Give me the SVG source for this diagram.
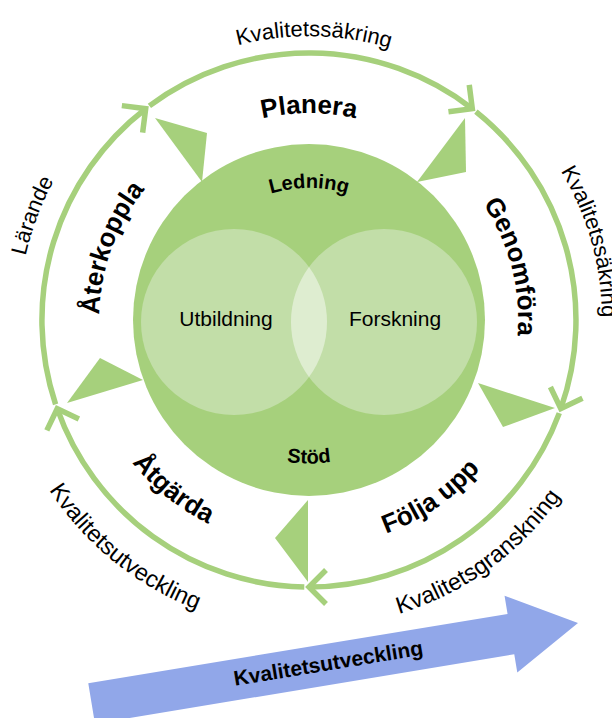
<svg xmlns="http://www.w3.org/2000/svg" xmlns:xlink="http://www.w3.org/1999/xlink" width="612" height="718" viewBox="0 0 612 718">
<style>
.ring{fill:none;stroke:#A6D07C;stroke-width:5.5;marker-end:url(#chev)}
.tri{fill:#A6D07C}
.t{font-family:"Liberation Sans",Arial,Helvetica,sans-serif;fill:#000}
.reg{font-size:22px}
.regL{font-size:23.5px}
.b{font-weight:bold;font-size:26px}
.bs{font-weight:bold;font-size:20px}
</style>
<defs>
<marker id="chev" markerUnits="userSpaceOnUse" viewBox="-25 -25 50 50" markerWidth="50" markerHeight="50" refX="0" refY="0" orient="auto" overflow="visible">
<path d="M-17,-17 L0,0 L-17,17" fill="none" stroke="#A6D07C" stroke-width="5.5"/>
</marker>
<path id="pTop" d="M26.6,290.3 A284,284 0 0 1 592.3,300.2"/>
<path id="pRight" d="M256.1,40 A285,285 0 0 1 409.7,587.9"/>
<path id="pLeft" d="M182.8,582.2 A291,291 0 0 1 387.7,39.9"/>
<path id="pBL" d="M51.2,146.1 A311,311 0 0 0 532.7,536"/>
<path id="pBR" d="M77.3,521.4 A307,307 0 0 0 572.2,161.8"/>
<path id="pPlan" d="M102.8,302 A207,207 0 0 1 515.2,302"/>
<path id="pGen" d="M273.8,114 A209,209 0 0 1 379.5,516.8"/>
<path id="pAter" d="M220.2,510.3 A210,210 0 0 1 363.4,117.2"/>
<path id="pAtg" d="M120.1,194 A227,227 0 0 0 473.1,476.8"/>
<path id="pFol" d="M133.6,464.1 A227,227 0 0 0 506.8,208.6"/>
<path id="pLed" d="M177.5,308.5 A132,132 0 0 1 440.5,308.5"/>
<path id="pStod" d="M166.5,332.5 A143,143 0 0 0 451.5,332.5"/>
</defs>

<g id="center">
<circle cx="309" cy="320" r="176" fill="#A6D07C"/>
<circle cx="234" cy="322" r="93" fill="#C2DEA8"/>
<circle cx="384" cy="322" r="93" fill="#C2DEA8"/>
<path d="M309,267 A93,93 0 0 1 309,377 A93,93 0 0 1 309,267 Z" fill="#DEEDD0"/>
<text class="t bs"><textPath xlink:href="#pLed" href="#pLed" startOffset="50%" text-anchor="middle">Ledning</textPath></text>
<text class="t bs" font-size="21"><textPath xlink:href="#pStod" href="#pStod" startOffset="50%" text-anchor="middle">Stöd</textPath></text>
<text class="t" x="226" y="326" font-size="21" text-anchor="middle">Utbildning</text>
<text class="t" x="395" y="326" font-size="21" text-anchor="middle">Forskning</text>
</g>

<g id="connectors">
<path class="ring" d="M149.4,105.9 A267,267 0 0 1 472.3,108.7"/>
<path class="ring" d="M475.9,111.6 A267,267 0 0 1 560.8,408.7"/>
<path class="ring" d="M559.3,413.1 A267,267 0 0 1 309,587"/>
<path class="ring" d="M304.3,587 A267,267 0 0 1 57.2,408.7"/>
<path class="ring" d="M55.6,404.3 A267,267 0 0 1 145.7,108.7"/>
<polygon class="tri" points="155,118 207,133 202,182"/>
<polygon class="tri" points="465,118 466,172 417,182"/>
<polygon class="tri" points="555,408 503,427 478,383"/>
<polygon class="tri" points="308,582 275,538 308,500"/>
<polygon class="tri" points="67,403 100,358 143,380"/>
</g>

<g id="planera"><text class="t b"><textPath xlink:href="#pPlan" href="#pPlan" startOffset="50%" text-anchor="middle">Planera</textPath></text></g>
<g id="genomfora"><text class="t b"><textPath xlink:href="#pGen" href="#pGen" startOffset="50%" text-anchor="middle">Genomföra</textPath></text></g>
<g id="folja-upp"><text class="t b"><textPath xlink:href="#pFol" href="#pFol" startOffset="50%" text-anchor="middle">Följa upp</textPath></text></g>
<g id="atgarda"><text class="t b"><textPath xlink:href="#pAtg" href="#pAtg" startOffset="50%" text-anchor="middle">Åtgärda</textPath></text></g>
<g id="aterkoppla"><text class="t b"><textPath xlink:href="#pAter" href="#pAter" startOffset="50%" text-anchor="middle">Återkoppla</textPath></text></g>

<g id="outer-labels">
<text class="t reg"><textPath xlink:href="#pTop" href="#pTop" startOffset="50%" text-anchor="middle">Kvalitetssäkring</textPath></text>
<text class="t reg"><textPath xlink:href="#pRight" href="#pRight" startOffset="50%" text-anchor="middle">Kvalitetssäkring</textPath></text>
<text class="t reg"><textPath xlink:href="#pLeft" href="#pLeft" startOffset="50%" text-anchor="middle">Lärande</textPath></text>
<text class="t regL"><textPath xlink:href="#pBL" href="#pBL" startOffset="50%" text-anchor="middle">Kvalitetsutveckling</textPath></text>
<text class="t regL"><textPath xlink:href="#pBR" href="#pBR" startOffset="50%" text-anchor="middle">Kvalitetsgranskning</textPath></text>
</g>

<g id="development-arrow" transform="translate(578,623) rotate(-9.4)">
<polygon points="0,0 -68,-39 -68,-20.5 -493,-20.5 -493,20.5 -68,20.5 -68,39" fill="#91A7E9"/>
<text class="t" x="-253" y="6" font-size="21" font-weight="bold" text-anchor="middle">Kvalitetsutveckling</text>
</g>
</svg>
